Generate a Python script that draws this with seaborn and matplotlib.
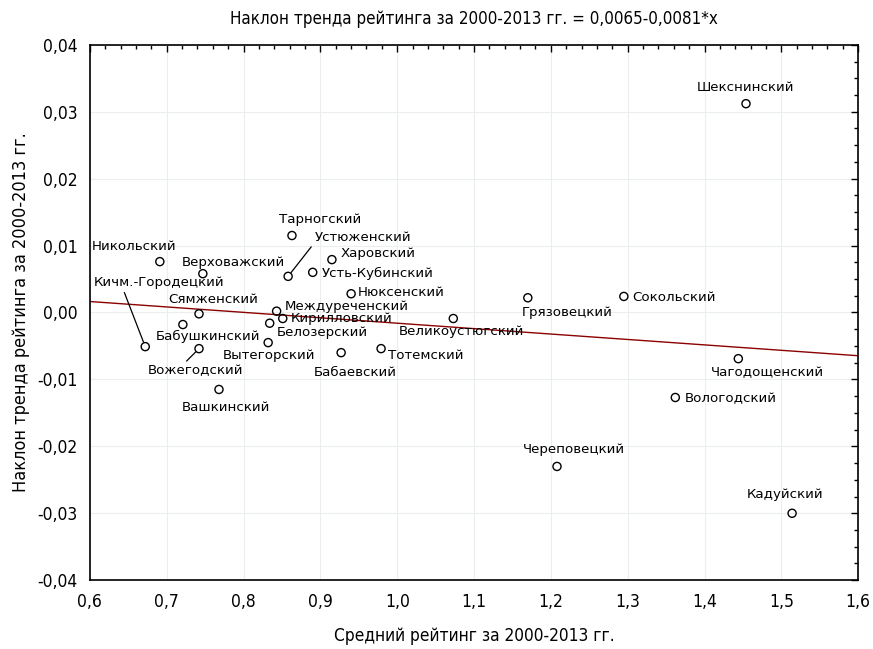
import numpy as np
import pandas as pd
import matplotlib
matplotlib.use('Agg')
import matplotlib.pyplot as plt
import seaborn as sns
from matplotlib.ticker import MultipleLocator, FuncFormatter

# Данные по районам
rayony = ['Шекснинский', 'Никольский', 'Тарногский', 'Устюженский', 'Харовский',
          'Верховажский', 'Усть-Кубинский', 'Кичм.-Городецкий', 'Нюксенский',
          'Сямженский', 'Междуреченский', 'Кирилловский', 'Белозерский',
          'Бабушкинский', 'Великоустюгский', 'Вытегорский', 'Тотемский',
          'Вожегодский', 'Бабаевский', 'Вашкинский', 'Грязовецкий', 'Сокольский',
          'Чагодощенский', 'Вологодский', 'Череповецкий', 'Кадуйский']
sredniy_reyting = [1.454, 0.691, 0.863, 0.858, 0.915,
                   0.747, 0.890, 0.672, 0.940,
                   0.742, 0.843, 0.851, 0.834,
                   0.721, 1.073, 0.832, 0.979,
                   0.742, 0.927, 0.768, 1.170, 1.295,
                   1.444, 1.362, 1.208, 1.514]
naklon = [0.0312, 0.0076, 0.0115, 0.0054, 0.0079,
          0.0058, 0.0060, -0.0051, 0.0028,
          -0.0002, 0.0002, -0.0009, -0.0016,
          -0.0018, -0.0009, -0.0045, -0.0054,
          -0.0054, -0.0060, -0.0115, 0.0022, 0.0024,
          -0.0069, -0.0127, -0.0230, -0.0300]

# Коэффициенты тренда из заголовка
b0 = 0.0065
b1 = -0.0081

# Смещения подписей (в пунктах) и выноски
podpisi = {
    'Шекснинский': (0, 12, 'center', None),
    'Никольский': (-49, 11, 'left', None),
    'Тарногский': (-9, 11.5, 'left', None),
    'Устюженский': (19, 28, 'left', (0.0, 0.1)),
    'Харовский': (6.5, 4.3, 'left', None),
    'Верховажский': (-15, 8, 'left', None),
    'Усть-Кубинский': (6.5, -0.7, 'left', None),
    'Кичм.-Городецкий': (-37, 46, 'left', (0.22, 0.1)),
    'Нюксенский': (5, 1, 'left', None),
    'Сямженский': (-22, 10, 'left', None),
    'Междуреченский': (6, 3.4, 'left', None),
    'Кирилловский': (6, 0.2, 'left', None),
    'Белозерский': (5, -6.5, 'left', None),
    'Бабушкинский': (-19.5, -8.6, 'left', None),
    'Великоустюгский': (-39, -9.4, 'left', None),
    'Вытегорский': (-33, -9.4, 'left', None),
    'Тотемский': (5, -5, 'left', None),
    'Вожегодский': (-37, -16, 'left', (0.36, 0.9)),
    'Бабаевский': (-20, -14.4, 'left', None),
    'Вашкинский': (-27, -13, 'left', None),
    'Грязовецкий': (-4.3, -10.8, 'left', None),
    'Сокольский': (6, -0.7, 'left', None),
    'Чагодощенский': (-19.4, -10, 'left', None),
    'Вологодский': (6.5, -0.7, 'left', None),
    'Череповецкий': (-24.5, 12, 'left', None),
    'Кадуйский': (-33, 13.7, 'left', None),
}

df = pd.DataFrame({'rayon': rayony, 'x': sredniy_reyting, 'y': naklon})

sns.set_style('white')
plt.rcParams['font.family'] = ['DejaVu Sans']
plt.rcParams['text.color'] = 'black'
plt.rcParams['axes.labelcolor'] = 'black'
plt.rcParams['xtick.color'] = 'black'
plt.rcParams['ytick.color'] = 'black'

fig = plt.figure(figsize=(8.73, 6.49), dpi=100)
ax = fig.add_axes([0.103, 0.106, 0.880, 0.825])

# линия тренда
xl = np.array([0.6, 1.6])
sns.lineplot(x=xl, y=b0 + b1 * xl, color='#8b0000', lw=1.0, ax=ax, zorder=2)

sns.scatterplot(data=df, x='x', y='y', marker='o', s=34, facecolor='none',
                edgecolor='black', linewidth=1.0, ax=ax, zorder=3)

for _, r in df.iterrows():
    dx, dy, ha, rel = podpisi[r['rayon']]
    kw = {}
    if rel is not None:
        kw['arrowprops'] = dict(arrowstyle='-', color='black', lw=0.9,
                                relpos=rel, shrinkA=0, shrinkB=3.5)
    ax.annotate(r['rayon'], (r['x'], r['y']), xytext=(dx, dy),
                textcoords='offset points', ha=ha, va='center',
                fontsize=9.6, color='black', zorder=4, **kw)

ax.set_xlim(0.6, 1.6)
ax.set_ylim(-0.04, 0.04)
ax.xaxis.set_major_locator(MultipleLocator(0.1))
ax.xaxis.set_minor_locator(MultipleLocator(0.02))
ax.yaxis.set_major_locator(MultipleLocator(0.01))
ax.yaxis.set_minor_locator(MultipleLocator(0.0025))
ax.xaxis.set_major_formatter(FuncFormatter(lambda v, p: f'{v:.1f}'.replace('.', ',')))
ax.yaxis.set_major_formatter(FuncFormatter(lambda v, p: f'{v:.2f}'.replace('.', ',').replace('-0,00', '0,00')))
ax.tick_params(which='both', direction='in', top=True, right=True, color='black')
ax.tick_params(which='major', length=5, width=1, labelsize=12.5, pad=9)
ax.tick_params(which='minor', length=3, width=1)
for lab in ax.get_xticklabels() + ax.get_yticklabels():
    lab.set_fontstretch('condensed')
ax.grid(True, which='major', color='#eceeee', lw=0.8, zorder=0)
ax.set_axisbelow(True)
for s in ax.spines.values():
    s.set_color('black')
    s.set_linewidth(1.2)

ax.set_title('Наклон тренда рейтинга за 2000-2013 гг. = 0,0065-0,0081*x',
             fontsize=12.2, fontstretch='condensed', pad=15)
ax.set_xlabel('Средний рейтинг за 2000-2013 гг.', fontsize=12.4,
              fontstretch='condensed', labelpad=12)
ax.set_ylabel('Наклон тренда рейтинга за 2000-2013 гг.', fontsize=13,
              fontstretch='condensed', labelpad=5)

fig.savefig('out.png', dpi=100, facecolor='white')
